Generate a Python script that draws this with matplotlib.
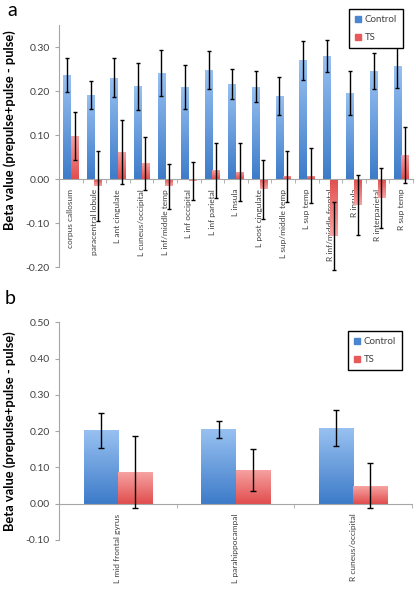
import numpy as np
import matplotlib
matplotlib.use("Agg")
import matplotlib.pyplot as plt
from matplotlib.colors import LinearSegmentedColormap
from matplotlib.ticker import FormatStrFormatter, FixedLocator

plt.rcParams["font.family"] = ["Lato", "DejaVu Sans"]

# panel a data
regions_a = ["corpus callosum", "paracentral lobule", "L ant cingulate",
             "L cuneus/occipital", "L inf/middle temp", "L inf occipital",
             "L inf parietal", "L insula", "L post cingulate",
             "L sup/middle temp", "L sup temp", "R inf/middle frontal",
             "R insula", "R interparietal", "R sup temp"]
control_a = [0.236, 0.192, 0.231, 0.211, 0.242, 0.210, 0.248, 0.217,
             0.210, 0.189, 0.270, 0.280, 0.196, 0.245, 0.258]
control_a_err = [0.039, 0.032, 0.045, 0.053, 0.052, 0.050, 0.043, 0.034,
                 0.035, 0.044, 0.045, 0.037, 0.050, 0.041, 0.051]
ts_a = [0.098, -0.015, 0.062, 0.036, -0.016, -0.004, 0.020, 0.016,
        -0.023, 0.007, 0.008, -0.130, -0.059, -0.042, 0.055]
ts_a_err = [0.054, 0.080, 0.072, 0.060, 0.051, 0.044, 0.062, 0.066,
            0.067, 0.058, 0.062, 0.077, 0.068, 0.068, 0.063]

# panel b data
regions_b = ["L mid frontal gyrus", "L parahippocampal", "R cuneus/occipital"]
control_b = [0.202, 0.205, 0.209]
control_b_err = [0.048, 0.023, 0.050]
ts_b = [0.087, 0.094, 0.049]
ts_b_err = [0.100, 0.058, 0.062]

CTRL_BASE, CTRL_TIP = "#3d7bc9", "#98c1f1"
TS_BASE, TS_TIP = "#e14d4d", "#f7a3a3"
TEXT = "#404040"
AXIS = "#a6a6a6"
YLABEL = "Beta value (prepulse+pulse - pulse)"

ctrl_cmap = LinearSegmentedColormap.from_list("ctrl", [CTRL_BASE, CTRL_TIP])
ts_cmap = LinearSegmentedColormap.from_list("ts", [TS_BASE, TS_TIP])
grad = np.linspace(0, 1, 256).reshape(-1, 1)


def gradient_bars(ax, x, heights, width, cmap):
    bars = ax.bar(x, heights, width, color="none", edgecolor="none", zorder=2)
    for rect, h in zip(bars, heights):
        x0 = rect.get_x()
        im = ax.imshow(grad, cmap=cmap, origin="lower", aspect="auto",
                       extent=(x0, x0 + rect.get_width(), 0, h), zorder=2)
        im.set_clip_path(rect)
    return bars


def draw_panel(ax, regions, control, control_err, ts, ts_err, width,
               ylim, yticks, cap):
    n = len(regions)
    idx = np.arange(n)
    xc = idx - width / 2
    xt = idx + width / 2
    gradient_bars(ax, xc, control, width, ctrl_cmap)
    gradient_bars(ax, xt, ts, width, ts_cmap)
    ax.errorbar(xc, control, yerr=control_err, fmt="none", ecolor="black",
                elinewidth=1, capsize=cap, capthick=1, zorder=3, clip_on=False)
    ax.errorbar(xt, ts, yerr=ts_err, fmt="none", ecolor="black",
                elinewidth=1, capsize=cap, capthick=1, zorder=3, clip_on=False)

    ax.set_xlim(-0.5, n - 0.5)
    ax.set_ylim(*ylim)
    ax.set_yticks(yticks)
    ax.yaxis.set_major_formatter(FormatStrFormatter("%.2f"))

    for s in ["top", "right"]:
        ax.spines[s].set_visible(False)
    ax.spines["left"].set_color(AXIS)
    ax.spines["bottom"].set_color(AXIS)
    ax.spines["bottom"].set_position(("data", 0))

    ax.set_xticks(idx)
    ax.set_xticklabels(regions, rotation=90, fontsize=6, color=TEXT)
    ax.xaxis.set_minor_locator(FixedLocator(np.arange(n + 1) - 0.5))
    ax.tick_params(axis="x", which="major", length=0, pad=7)
    ax.tick_params(axis="x", which="minor", length=3, color=AXIS)
    ax.tick_params(axis="y", length=3, color=AXIS, labelsize=7.5,
                   labelcolor=TEXT)


fig = plt.figure(figsize=(4.16, 5.99), dpi=100)
ax_a = fig.add_axes([0.1418, 0.554, 0.851, 0.404])
ax_b = fig.add_axes([0.1418, 0.0985, 0.849, 0.3635])

draw_panel(ax_a, regions_a, control_a, control_a_err, ts_a, ts_a_err, 0.32,
           (-0.2, 0.35), [-0.2, -0.1, 0.0, 0.1, 0.2, 0.3], 1.5)
draw_panel(ax_b, regions_b, control_b, control_b_err, ts_b, ts_b_err, 0.29,
           (-0.1, 0.5), [-0.1, 0.0, 0.1, 0.2, 0.3, 0.4, 0.5], 2)

# axis titles, centred where the original puts them
fig.text(10 / 416, 1 - 130 / 599, YLABEL, rotation=90, ha="center",
         va="center", fontsize=9.3, fontweight="bold")
fig.text(10 / 416, 1 - 431 / 599, YLABEL, rotation=90, ha="center",
         va="center", fontsize=9.3, fontweight="bold")

for ax, anchor in [(ax_a, (0.985, 1.085)), (ax_b, (0.985, 0.98))]:
    handles = [plt.Rectangle((0, 0), 1, 1, color="#4a86cf"),
               plt.Rectangle((0, 0), 1, 1, color="#e85a5a")]
    leg = ax.legend(handles, ["Control", "TS"], loc="upper right",
                    bbox_to_anchor=anchor, fontsize=7, handlelength=0.6,
                    handleheight=0.6, handletextpad=0.4, labelspacing=0.9,
                    borderpad=0.6, fancybox=False, framealpha=1)
    leg.get_frame().set_edgecolor("black")
    leg.get_frame().set_linewidth(1)
    for t in leg.get_texts():
        t.set_color(TEXT)

fig.text(0.018, 1 - 11 / 599, "a", fontsize=14, va="center", ha="left")
fig.text(0.012, 0.502, "b", fontsize=14, va="center", ha="left")

fig.savefig("out.png", dpi=100)
